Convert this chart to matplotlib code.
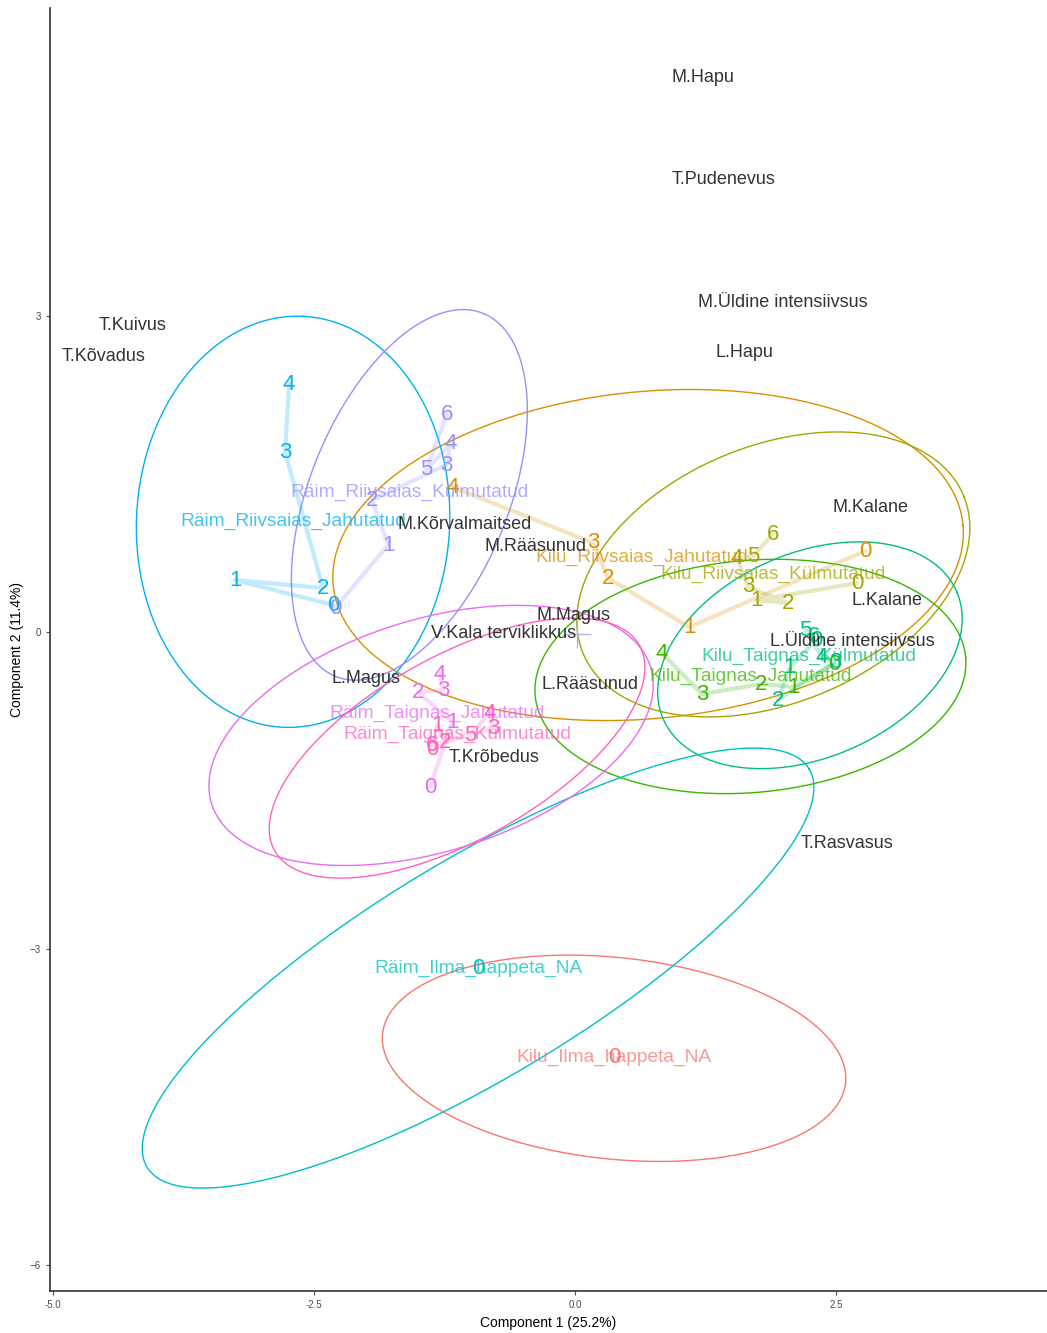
import numpy as np
import matplotlib
matplotlib.use("Agg")
import matplotlib.pyplot as plt

plt.rcParams['font.family'] = ['Liberation Sans', 'DejaVu Sans']

# groups (sample type), colours follow ggplot's default hue palette
groups = ["Kilu_Ilma happeta_NA", "Kilu_Riivsaias_Jahutatud", "Kilu_Riivsaias_Külmutatud",
          "Kilu_Taignas_Jahutatud", "Kilu_Taignas_Külmutatud", "Räim_Ilma happeta_NA",
          "Räim_Riivsaias_Jahutatud", "Räim_Riivsaias_Külmutatud",
          "Räim_Taignas_Jahutatud", "Räim_Taignas_Külmutatud"]
colors = ["#F8766D", "#D89000", "#A3A500", "#39B600", "#00BF7D",
          "#00BFC4", "#00B0F6", "#9590FF", "#E76BF3", "#FF62BC"]

# storage time of each point
times = [
    [0],
    [0, 1, 2, 3, 4],
    [0, 1, 2, 3, 4, 5, 6],
    [0, 1, 2, 3, 4],
    [0, 1, 2, 3, 4, 5, 6],
    [0],
    [0, 1, 2, 3, 4],
    [0, 1, 2, 3, 4, 5, 6],
    [0, 1, 2, 3, 4],
    [0, 1, 2, 3, 4, 5, 6],
]
comp1 = [
    [0.374],
    [2.778, 1.092, 0.316, 0.172, -1.169],
    [2.701, 1.743, 2.040, 1.657, 1.552, 1.705, 1.897],
    [2.481, 2.088, 1.782, 1.216, 0.833],
    [2.308, 2.059, 1.944, 2.490, 2.366, 2.203, 2.289],
    [-0.929],
    [-2.318, -3.257, -2.414, -2.778, -2.739],
    [-2.299, -1.791, -1.944, -1.236, -1.188, -1.427, -1.226],
    [-1.389, -1.178, -1.504, -1.264, -1.293],
    [-1.370, -1.322, -1.245, -0.785, -0.814, -1.006, -1.370],
]
comp2 = [
    [-4.028],
    [0.768, 0.047, 0.512, 0.844, 1.374],
    [0.464, 0.303, 0.275, 0.427, 0.701, 0.720, 0.929],
    [-0.303, -0.521, -0.493, -0.588, -0.199],
    [-0.076, -0.332, -0.645, -0.284, -0.237, 0.019, -0.038],
    [-3.185],
    [0.256, 0.493, 0.417, 1.706, 2.351],
    [0.227, 0.825, 1.251, 1.583, 1.791, 1.536, 2.066],
    [-1.469, -0.853, -0.569, -0.550, -0.398],
    [-1.109, -0.882, -1.043, -0.910, -0.768, -0.976, -1.071],
]

# ellipse per group: centre, semi-axes and rotation (deg)
ell_cx = [0.374, 0.70, 1.899, 1.680, 2.25, -0.929, -2.701, -1.587, -1.379, -1.13]
ell_cy = [-4.04, 0.73, 0.546, -0.421, -0.22, -3.185, 1.045, 1.30, -0.98, -1.10]
ell_a = [2.23, 3.03, 1.97, 2.07, 1.53, 3.69, 1.95, 1.86, 2.20, 2.00]
ell_b = [0.955, 1.55, 1.22, 1.10, 0.97, 1.04, 1.50, 0.95, 1.10, 0.87]
ell_angle = [-6, 5.4, 22, 5, 23, 30.7, 87, 67.5, 17, 29]

# sensory attributes (loadings)
attributes = ["M.Hapu", "T.Pudenevus", "M.Üldine intensiivsus", "L.Hapu", "T.Kuivus",
              "T.Kõvadus", "M.Kalane", "M.Kõrvalmaitsed", "M.Rääsunud", "L.Kalane",
              "M.Magus", "V.Kala terviklikkus", "L.Üldine intensiivsus", "L.Magus",
              "L.Rääsunud", "T.Krõbedus", "T.Rasvasus"]
attr_x = [1.226, 1.418, 1.992, 1.619, -4.234, -4.521, 2.826, -1.054, -0.383, 2.989,
          -0.019, -0.680, 2.653, -2.002, 0.144, -0.776, 2.605]
attr_y = [5.26, 4.29, 3.12, 2.65, 2.91, 2.61, 1.185, 1.024, 0.815, 0.303,
          0.161, -0.010, -0.085, -0.436, -0.493, -1.185, -2.0]

origin = (0.02, -0.02)

fig = plt.figure(figsize=(10.47, 13.33), dpi=100)
ax = fig.add_axes([0.0478, 0.0315, 0.9522, 0.9625])

t = np.linspace(0, 2 * np.pi, 300)
for i, g in enumerate(groups):
    x = np.array(comp1[i])
    y = np.array(comp2[i])
    c = colors[i]
    th = np.radians(ell_angle[i])
    ex = ell_cx[i] + ell_a[i] * np.cos(t) * np.cos(th) - ell_b[i] * np.sin(t) * np.sin(th)
    ey = ell_cy[i] + ell_a[i] * np.cos(t) * np.sin(th) + ell_b[i] * np.sin(t) * np.cos(th)
    ax.plot(ex, ey, color=c, lw=1.0, zorder=1)
    if len(x) > 1:
        ax.plot(x, y, color=c, lw=3, alpha=0.25, solid_capstyle='round', zorder=2)
    for xi, yi, ti in zip(x, y, times[i]):
        ax.text(xi, yi, str(ti), color=c, fontsize=16, ha='center', va='center', zorder=3)
    ax.text(x.mean(), y.mean(), g.replace(" ", "_"), color=c, alpha=0.75, fontsize=13.8,
            ha='center', va='center', zorder=4)

ax.plot(*origin, marker='+', markersize=20, mew=1, color="#B4B4EC", zorder=2)

for name, x, y in zip(attributes, attr_x, attr_y):
    ax.text(x, y, name, color="#333333", fontsize=13, ha='center', va='center', zorder=5)

ax.set_xlim(-5.029, 4.521)
ax.set_ylim(-6.246, 5.915)
ax.set_xticks([-5.0, -2.5, 0.0, 2.5])
ax.set_xticklabels(["-5.0", "-2.5", "0.0", "2.5"])
ax.set_yticks([-6, -3, 0, 3])
ax.tick_params(labelsize=7, colors="#4D4D4D", length=3, width=0.8)
for s in ["top", "right"]:
    ax.spines[s].set_visible(False)
for s in ["left", "bottom"]:
    ax.spines[s].set_color("#333333")
    ax.spines[s].set_linewidth(1.2)
ax.set_xlabel("Component 1 (25.2%)", fontsize=10, labelpad=4)
ax.set_ylabel("Component 2 (11.4%)", fontsize=10, labelpad=4)

fig.savefig("out.png", dpi=100)
